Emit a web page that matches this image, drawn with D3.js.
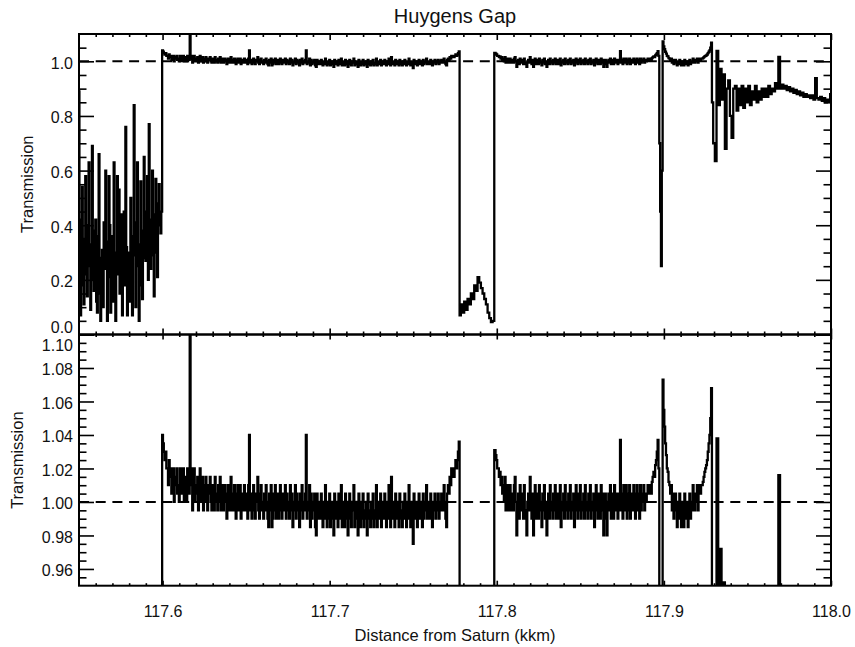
<!DOCTYPE html>
<html>
<head>
<meta charset="utf-8">
<script src="https://cdn.jsdelivr.net/npm/d3@7"></script>
<style>
  body { margin: 0; background: #fff; }
  text { font-family: "Liberation Sans", Arial, Helvetica, sans-serif; fill: #111; }
</style>
</head>
<body>
<script>
// Occultation transmission profile across the Huygens Gap.
// Each block: first radius (kkm), sampling step (kkm), transmission values.

// Outer edge of the B ring, 117.5500 - 117.5995 kkm
const bRingEdgeStart = 117.550, bRingEdgeStep = 0.0005;
const bRingEdge = [
  0.89, 0.30, 0.07, 0.42, 0.54, 0.18, 0.11, 0.35, 0.58, 0.22,
  0.14, 0.40, 0.63, 0.25, 0.09, 0.33, 0.69, 0.20, 0.16, 0.38,
  0.42, 0.12, 0.08, 0.36, 0.66, 0.15, 0.05, 0.28, 0.31, 0.10,
  0.41, 0.24, 0.60, 0.34, 0.05, 0.21, 0.58, 0.40, 0.08, 0.19,
  0.36, 0.12, 0.63, 0.30, 0.05, 0.27, 0.58, 0.22, 0.53, 0.15,
  0.37, 0.44, 0.07, 0.26, 0.45, 0.18, 0.76, 0.32, 0.07, 0.20,
  0.30, 0.12, 0.50, 0.36, 0.07, 0.29, 0.84, 0.41, 0.10, 0.25,
  0.63, 0.33, 0.05, 0.18, 0.56, 0.38, 0.13, 0.28, 0.65, 0.31,
  0.27, 0.45, 0.58, 0.20, 0.77, 0.42, 0.24, 0.35, 0.60, 0.29,
  0.14, 0.44, 0.57, 0.30, 0.21, 0.48, 0.55, 0.40, 0.37, 0.45
];

// Inner part of the gap, 117.6000 - 117.7775 kkm
const innerGapStart = 117.600, innerGapStep = 0.0005;
const innerGap = [
  1.040, 1.035, 1.030, 1.025, 1.030, 1.020, 1.020, 1.010, 1.025, 1.015,
  1.020, 1.005, 1.020, 1.020, 1.000, 1.010, 1.015, 1.020, 1.005, 1.010,
  1.000, 1.020, 1.015, 1.005, 1.020, 1.020, 1.000, 1.010, 1.015, 1.000,
  1.020, 1.010, 1.005, 1.130, 1.010, 1.020, 0.995, 1.015, 1.020, 1.000,
  1.010, 1.005, 1.015, 0.995, 1.010, 1.020, 1.000, 1.005, 1.015, 0.995,
  1.010, 1.000, 1.015, 1.005, 0.995, 1.010, 1.005, 1.015, 1.000, 0.995,
  1.010, 1.005, 0.995, 1.015, 1.000, 1.005, 0.995, 1.010, 1.000, 1.015,
  0.995, 1.005, 1.010, 0.995, 1.000, 1.010, 1.005, 0.990, 1.005, 1.010,
  0.995, 1.000, 1.015, 0.995, 1.005, 0.995, 1.010, 1.000, 0.990, 1.005,
  1.010, 0.995, 1.000, 1.010, 0.990, 1.005, 1.000, 0.995, 1.010, 1.000,
  0.995, 1.005, 0.990, 1.010, 1.040, 0.995, 1.005, 0.990, 1.000, 1.010,
  0.995, 0.990, 1.005, 1.000, 1.015, 0.995, 0.990, 1.005, 1.010, 0.995,
  1.000, 0.990, 1.005, 0.995, 1.010, 1.000, 0.990, 0.985, 1.005, 0.995,
  1.010, 0.985, 0.990, 1.005, 0.995, 1.010, 0.990, 1.000, 1.005, 0.990,
  1.000, 1.010, 0.995, 0.990, 1.005, 1.000, 0.995, 1.010, 0.990, 1.005,
  0.995, 1.000, 0.990, 1.010, 0.995, 1.005, 0.985, 1.000, 0.995, 1.010,
  0.990, 1.005, 0.995, 1.000, 0.985, 1.005, 0.995, 1.010, 0.990, 1.000,
  0.995, 1.005, 1.040, 0.990, 1.000, 0.995, 1.010, 0.985, 1.005, 0.990,
  1.000, 0.995, 1.005, 0.985, 0.980, 1.005, 0.995, 0.990, 1.000, 0.990,
  1.005, 0.995, 0.985, 1.000, 0.990, 1.010, 0.995, 0.985, 1.000, 0.990,
  1.005, 0.985, 0.995, 1.000, 0.990, 0.980, 1.005, 0.995, 0.990, 1.000,
  0.985, 1.005, 0.995, 0.990, 1.010, 0.985, 1.000, 0.995, 0.985, 1.005,
  0.990, 1.000, 0.980, 0.995, 1.005, 0.990, 0.985, 1.000, 0.995, 1.010,
  0.985, 0.995, 1.000, 0.990, 0.980, 1.005, 0.995, 0.985, 1.000, 0.990,
  1.005, 0.985, 0.995, 0.990, 1.000, 0.980, 1.005, 0.990, 0.995, 0.985,
  1.000, 0.990, 1.005, 0.985, 0.995, 0.990, 1.010, 0.985, 1.000, 0.990,
  0.995, 1.005, 0.985, 0.990, 1.000, 0.990, 1.005, 0.995, 0.985, 1.000,
  0.990, 1.010, 0.995, 0.985, 1.015, 0.990, 1.000, 0.995, 0.985, 1.005,
  0.990, 0.995, 1.000, 0.985, 1.005, 0.990, 0.995, 0.985, 1.000, 0.990,
  1.005, 0.995, 0.985, 1.000, 0.990, 1.010, 0.995, 0.985, 1.000, 0.990,
  0.975, 1.005, 0.995, 0.990, 1.000, 0.985, 0.995, 1.005, 0.990, 1.000,
  0.995, 0.985, 1.005, 0.990, 1.000, 0.995, 1.010, 0.990, 0.995, 1.000,
  0.990, 1.005, 0.995, 0.985, 1.000, 0.995, 1.005, 0.990, 1.000, 0.995,
  1.005, 0.990, 1.000, 0.995, 1.005, 1.000, 0.995, 1.010, 1.000, 0.990,
  0.985, 1.005, 1.010, 1.005, 1.015, 1.010, 1.020, 1.015, 1.020, 1.015,
  1.020, 1.025, 1.020, 1.025, 1.030, 1.036
];

// Huygens ringlet, 117.778 - 117.798 kkm
const ringletStart = 117.778, ringletStep = 0.001;
const huygensRinglet = [
  0.07, 0.11, 0.08, 0.12, 0.09, 0.13, 0.11, 0.15, 0.13, 0.18,
  0.16, 0.21, 0.19, 0.17, 0.15, 0.13, 0.11, 0.08, 0.06, 0.045,
  0.05
];

// Outer part of the gap with the narrow ringlet near 117.9, 117.7990 - 117.9285 kkm
const outerGapStart = 117.799, outerGapStep = 0.0005;
const outerGap = [
  1.031, 1.028, 1.025, 1.020, 1.020, 1.015, 1.018, 1.010, 1.015, 1.005,
  1.010, 1.000, 1.015, 0.995, 1.005, 1.010, 0.995, 1.000, 1.010, 0.995,
  1.000, 1.005, 0.995, 1.010, 1.015, 1.000, 0.980, 0.995, 1.005, 0.990,
  1.010, 0.995, 1.000, 1.005, 0.990, 1.010, 0.995, 0.990, 0.980, 1.000,
  1.005, 0.995, 1.015, 1.000, 0.990, 1.005, 0.980, 0.995, 1.010, 0.990,
  1.000, 1.005, 0.990, 1.010, 0.995, 1.000, 0.985, 1.005, 0.995, 1.010,
  0.990, 1.000, 0.980, 0.995, 1.005, 0.990, 1.010, 0.995, 1.000, 0.990,
  1.005, 0.995, 1.010, 0.990, 1.000, 1.005, 0.990, 0.995, 1.010, 0.985,
  1.000, 0.995, 1.005, 0.990, 1.010, 0.995, 1.000, 0.990, 1.005, 0.995,
  1.010, 0.990, 1.000, 0.995, 1.005, 0.985, 1.000, 1.010, 0.995, 0.990,
  1.005, 0.995, 1.010, 0.990, 1.000, 0.995, 1.005, 0.990, 1.010, 0.995,
  1.000, 0.990, 1.005, 0.995, 1.010, 0.990, 1.000, 0.995, 1.005, 0.985,
  1.000, 1.010, 0.995, 0.990, 1.005, 1.000, 0.990, 1.010, 0.995, 1.005,
  0.980, 0.995, 1.005, 0.990, 0.980, 1.000, 1.005, 0.995, 1.010, 0.990,
  1.000, 1.005, 0.990, 1.010, 0.995, 1.005, 1.000, 0.990, 1.005, 0.995,
  1.037, 0.995, 1.005, 0.990, 1.010, 1.000, 0.995, 1.010, 0.990, 1.005,
  0.995, 1.010, 0.990, 1.000, 1.005, 0.995, 1.010, 1.000, 0.990, 1.005,
  1.010, 0.995, 1.005, 0.990, 1.010, 0.995, 1.005, 1.000, 1.010, 0.995,
  1.005, 1.000, 1.005, 1.010, 1.005, 1.010, 1.010, 1.005, 1.012, 1.015,
  1.018, 1.015, 1.022, 1.025, 1.030, 1.037, 1.020, 0.700, 0.450, 0.250,
  0.600, 1.073, 1.055, 1.045, 1.035, 1.028, 1.020, 1.018, 1.012, 1.010,
  1.005, 1.010, 0.995, 1.005, 0.990, 1.000, 1.005, 0.995, 0.985, 1.000,
  0.990, 1.005, 0.995, 0.985, 1.000, 0.990, 0.985, 1.005, 0.995, 0.990,
  1.000, 0.985, 0.995, 1.005, 0.990, 1.000, 0.995, 1.010, 1.000, 0.995,
  1.005, 1.000, 1.010, 0.995, 1.005, 1.010, 1.005, 1.010, 1.010, 1.012,
  1.015, 1.018, 1.020, 1.022, 1.025, 1.030, 1.035, 1.040, 1.050, 1.068
];

// Inner edge of the Cassini Division ramp, 117.929 - 118.000 kkm
const rampStart = 117.929, rampStep = 0.001;
const rampRegion = [
  0.850,
  0.700, 0.635, 1.038, 0.840, 0.972, 0.860, 0.952, 0.680, 0.900, 0.930,
  0.800, 0.720, 0.900, 0.910, 0.820, 0.900, 0.840, 0.910, 0.830, 0.900,
  0.850, 0.910, 0.840, 0.890, 0.860, 0.910, 0.850, 0.890, 0.860, 0.900,
  0.870, 0.900, 0.870, 0.910, 0.880, 0.900, 0.890, 0.920, 0.900, 1.016,
  0.900, 0.915, 0.900, 0.910, 0.895, 0.905, 0.890, 0.900, 0.885, 0.895,
  0.880, 0.890, 0.875, 0.885, 0.870, 0.880, 0.870, 0.875, 0.865, 0.875,
  0.860, 0.938, 0.865, 0.860, 0.870, 0.855, 0.865, 0.850, 0.860, 0.855,
  0.880
];

// Axis ticks and labels
const xDomain = [117.55, 118.0];
const xTickValues = [117.6, 117.7, 117.8, 117.9, 118.0];
const xTickLabels = ["117.6", "117.7", "117.8", "117.9", "118.0"];
const upperDomain = [0, 1.1];
const upperTickValues = [0, 0.2, 0.4, 0.6, 0.8, 1.0];
const upperTickLabels = ["0.0", "0.2", "0.4", "0.6", "0.8", "1.0"];
const lowerDomain = [0.95, 1.10];
const lowerTickValues = [0.96, 0.98, 1.00, 1.02, 1.04, 1.06, 1.08, 1.10];
const lowerTickLabels = ["0.96", "0.98", "1.00", "1.02", "1.04", "1.06", "1.08", "1.10"];
const referenceLevel = 1.0;

const chartTitle = "Huygens Gap";
const xTitle = "Distance from Saturn (kkm)";
const yTitle = "Transmission";

// ---- layout ----
const W = 855, H = 647;
const L = 79, R = 831, T = 34, MID = 334.5, B = 585.7;

const blocks = [
  [bRingEdgeStart, bRingEdgeStep, bRingEdge],
  [innerGapStart, innerGapStep, innerGap],
  [ringletStart, ringletStep, huygensRinglet],
  [outerGapStart, outerGapStep, outerGap],
  [rampStart, rampStep, rampRegion]
];
const profile = blocks.flatMap(([r0, dr, vals]) =>
  vals.map((t, k) => ({ r: r0 + k * dr, t })));

const svg = d3.select("body").append("svg")
  .attr("width", W).attr("height", H);

const x = d3.scaleLinear().domain(xDomain).range([L, R]);

function minorValues(d0, d1, step, majors) {
  const n = Math.round((d1 - d0) / step);
  return d3.range(1, n).map(k => d0 + k * step)
    .filter(v => !majors.some(m => Math.abs(m - v) < step / 10));
}
const xMinor = minorValues(xDomain[0], xDomain[1], 0.01, xTickValues);

const panels = [
  { id: "upper", top: T, bottom: MID,
    y: d3.scaleLinear().domain(upperDomain).range([MID, T]),
    ticks: upperTickValues, labels: upperTickLabels, minorStep: 0.05,
    xMajor: 6, xMinor: 3, titleX: 32.7, showX: false },
  { id: "lower", top: MID, bottom: B,
    y: d3.scaleLinear().domain(lowerDomain).range([B, MID]),
    ticks: lowerTickValues, labels: lowerTickLabels, minorStep: 0.005,
    xMajor: 5, xMinor: 2.5, titleX: 23.3, showX: true }
];

const defs = svg.append("defs");

panels.forEach(p => {
  const dom = p.y.domain();
  const g = svg.append("g").attr("class", p.id);

  defs.append("clipPath").attr("id", "clip-" + p.id)
    .append("rect").attr("x", L).attr("y", p.top)
    .attr("width", R - L).attr("height", p.bottom - p.top);

  const plot = g.append("g").attr("clip-path", `url(#clip-${p.id})`);

  // dashed unit-transmission level
  plot.append("line")
    .attr("x1", L).attr("x2", R)
    .attr("y1", p.y(referenceLevel)).attr("y2", p.y(referenceLevel))
    .attr("stroke", "#000").attr("stroke-width", 2)
    .attr("stroke-dasharray", "10,6.7");

  // transmission profile, histogram-style steps
  const line = d3.line().curve(d3.curveStep).x(d => x(d.r)).y(d => p.y(d.t));
  plot.append("path").datum(profile)
    .attr("d", line)
    .attr("fill", "none").attr("stroke", "#000")
    .attr("stroke-width", 2.3).attr("stroke-linejoin", "miter");

  const yMinor = minorValues(dom[0], dom[1], p.minorStep, p.ticks);

  const style = sel => {
    sel.select(".domain").remove();
    sel.selectAll(".tick line").attr("stroke", "#000").attr("stroke-width", 1.6);
  };

  // left axis with labels
  const left = g.append("g").attr("transform", `translate(${L},0)`)
    .call(d3.axisLeft(p.y).tickValues(p.ticks)
      .tickFormat((d, i) => p.labels[i]).tickSize(-15).tickPadding(6))
    .call(style);
  left.selectAll(".tick text")
    .attr("font-size", 16)
    .attr("y", d => d === dom[0] && p.id === "upper" ? -7.5 :
                    d === dom[1] && p.id === "lower" ? 10.5 : 1.8);
  g.append("g").attr("transform", `translate(${L},0)`)
    .call(d3.axisLeft(p.y).tickValues(yMinor).tickFormat("").tickSize(-7.5))
    .call(style);

  // right axis
  g.append("g").attr("transform", `translate(${R},0)`)
    .call(d3.axisRight(p.y).tickValues(p.ticks).tickFormat("").tickSize(-15))
    .call(style);
  g.append("g").attr("transform", `translate(${R},0)`)
    .call(d3.axisRight(p.y).tickValues(yMinor).tickFormat("").tickSize(-7.5))
    .call(style);

  // top axis
  g.append("g").attr("transform", `translate(0,${p.top})`)
    .call(d3.axisTop(x).tickValues(xTickValues).tickFormat("").tickSize(-p.xMajor))
    .call(style);
  g.append("g").attr("transform", `translate(0,${p.top})`)
    .call(d3.axisTop(x).tickValues(xMinor).tickFormat("").tickSize(-p.xMinor))
    .call(style);

  // bottom axis
  const bottom = g.append("g").attr("transform", `translate(0,${p.bottom})`)
    .call(d3.axisBottom(x).tickValues(xTickValues)
      .tickFormat((d, i) => p.showX ? xTickLabels[i] : "")
      .tickSize(-p.xMajor).tickPadding(20))
    .call(style);
  bottom.selectAll(".tick text").attr("font-size", 16);
  g.append("g").attr("transform", `translate(0,${p.bottom})`)
    .call(d3.axisBottom(x).tickValues(xMinor).tickFormat("").tickSize(-p.xMinor))
    .call(style);

  // frame
  g.append("rect")
    .attr("x", L).attr("y", p.top)
    .attr("width", R - L).attr("height", p.bottom - p.top)
    .attr("fill", "none").attr("stroke", "#000").attr("stroke-width", 2);

  // y title
  g.append("text")
    .attr("transform", `translate(${p.titleX},${(p.top + p.bottom) / 2}) rotate(-90)`)
    .attr("text-anchor", "middle")
    .attr("font-size", 16.5)
    .text(yTitle);
});

svg.append("text")
  .attr("x", (L + R) / 2).attr("y", 22.7)
  .attr("text-anchor", "middle").attr("font-size", 20)
  .text(chartTitle);

svg.append("text")
  .attr("x", (L + R) / 2).attr("y", 640.5)
  .attr("text-anchor", "middle").attr("font-size", 16.5)
  .text(xTitle);
</script>
</body>
</html>
